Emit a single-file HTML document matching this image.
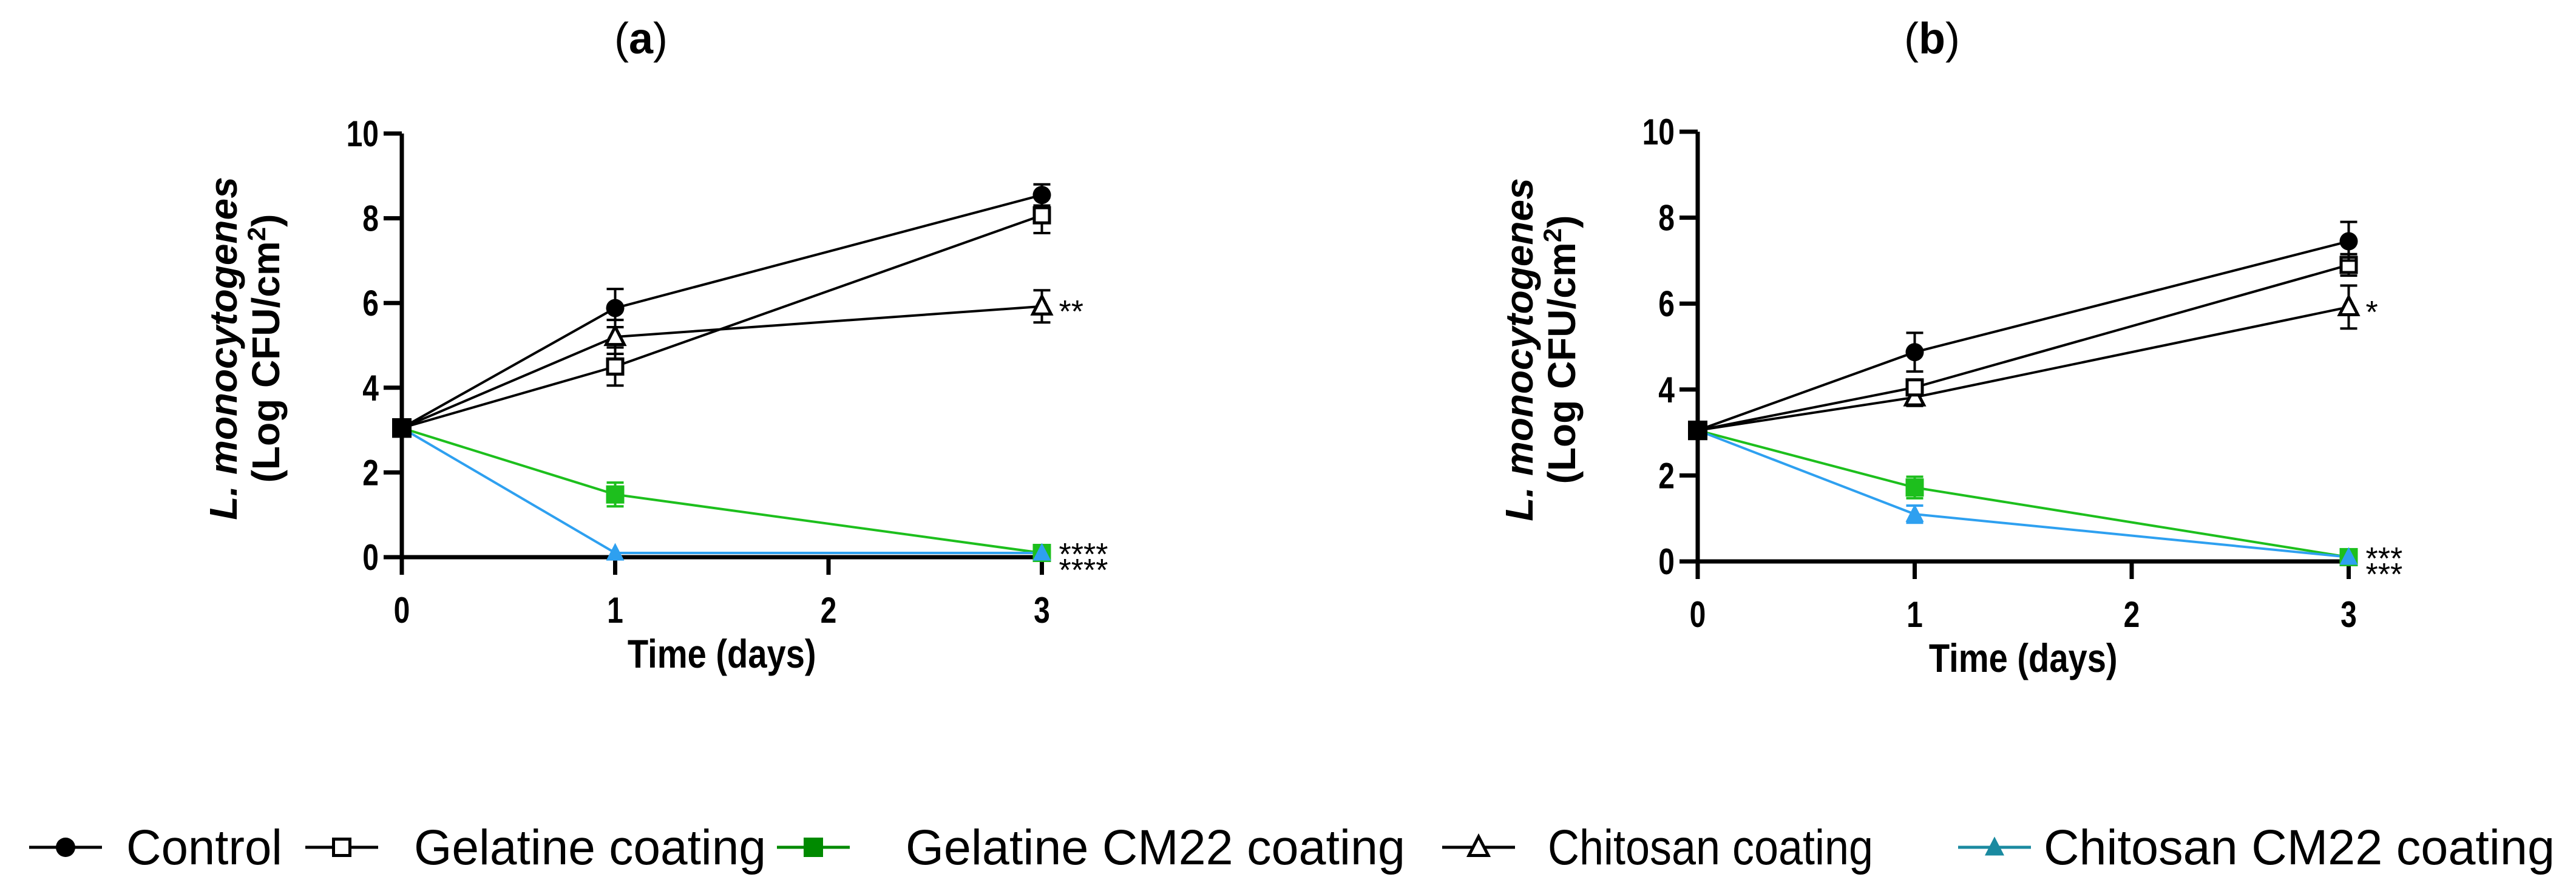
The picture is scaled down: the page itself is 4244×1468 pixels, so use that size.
<!DOCTYPE html>
<html><head><meta charset="utf-8"><style>
body{margin:0;background:#fff;}
svg{display:block;}
text{font-family:"Liberation Sans",Arial,sans-serif;}
.tick{font-weight:bold;font-size:60px;}
</style></head><body>
<svg id="chart" width="4244" height="1468" viewBox="0 0 4244 1468">
<g id="legend"></g>
</svg>
<script>
const days = [0, 1, 3];
const xTicks = [0, 1, 2, 3];
const yTicks = [0, 2, 4, 6, 8, 10];
const seriesNames = ["Control", "Gelatine coating", "Gelatine CM22 coating", "Chitosan coating", "Chitosan CM22 coating"];
// panel a
const aControl = [3.05, 5.88, 8.55];
const aControlErr = [0, 0.45, 0.25];
const aGelatine = [3.05, 4.5, 8.07];
const aGelatineErr = [0, 0.45, 0.42];
const aGelCM22 = [3.05, 1.48, 0.1];
const aGelCM22Err = [0, 0.28, 0];
const aChitosan = [3.05, 5.2, 5.92];
const aChitosanErr = [0, 0.4, 0.38];
const aChitCM22 = [3.05, 0.1, 0.1];
const aChitCM22Err = [0, 0, 0];
// panel b
const bControl = [3.05, 4.87, 7.45];
const bControlErr = [0, 0.45, 0.45];
const bGelatine = [3.05, 4.05, 6.9];
const bGelatineErr = [0, 0.15, 0.25];
const bGelCM22 = [3.05, 1.72, 0.1];
const bGelCM22Err = [0, 0.25, 0];
const bChitosan = [3.05, 3.82, 5.92];
const bChitosanErr = [0, 0.2, 0.5];
const bChitCM22 = [3.05, 1.1, 0.1];
const bChitCM22Err = [0, 0.2, 0];
const aSig = ["**", "****", "****"];
const bSig = ["*", "***", "***"];

const NS = "http://www.w3.org/2000/svg";
const svg = document.getElementById("chart");
function mk(tag, attrs, parent) {
  const e = document.createElementNS(NS, tag);
  for (const k in attrs) e.setAttribute(k, attrs[k]);
  (parent || svg).appendChild(e);
  return e;
}
const GREEN = "#1dbf1d", BLUE = "#2ea0f0";

function marker(g, type, cx, cy, color, s) {
  let e;
  if (type === "circle") e = mk("circle", {cx, cy, r: s*0.5, fill: color}, g);
  else if (type === "sqOpen") e = mk("rect", {x: cx-s/2+2.5, y: cy-s/2+2.5, width: s-5, height: s-5, fill: "#fff", stroke: color, "stroke-width": 5}, g);
  else if (type === "sq") e = mk("rect", {x: cx-s/2, y: cy-s/2, width: s, height: s, fill: color}, g);
  else if (type === "triOpen") e = mk("polygon", {points: `${cx},${cy-s*0.55} ${cx+s*0.5},${cy+s*0.42} ${cx-s*0.5},${cy+s*0.42}`, fill: "#fff", stroke: color, "stroke-width": 5}, g);
  else e = mk("polygon", {points: `${cx},${cy-s*0.55} ${cx+s*0.5},${cy+s*0.42} ${cx-s*0.5},${cy+s*0.42}`, fill: color}, g);
  return e;
}

function panel(cfg) {
  const g = mk("g", {});
  
  
  const X = d => cfg.x0 + d * cfg.dx;
  const Y = v => cfg.y0 - v * cfg.dy;
  const t = mk("text", {x: cfg.titleX, y: 88, "font-size": 72, "text-anchor": "middle", "font-family": "Liberation Serif, serif"}, g);
  
  
  t.innerHTML = "(<tspan font-weight='bold'>" + cfg.label + "</tspan>)";
  const series = [
    {v: cfg.data[2], e: cfg.err[2], c: GREEN, m: "sq", n: "gelatine-cm22"},
    {v: cfg.data[4], e: cfg.err[4], c: BLUE, m: "tri", n: "chitosan-cm22"},
    {v: cfg.data[3], e: cfg.err[3], c: "#000", m: "triOpen", n: "chitosan"},
    {v: cfg.data[1], e: cfg.err[1], c: "#000", m: "sqOpen", n: "gelatine"},
    {v: cfg.data[0], e: cfg.err[0], c: "#000", m: "circle", n: "control"},
  ];
  for (const s of series) {
    const pts = days.map((d, i) => X(d) + "," + Y(s.v[i])).join(" ");
    const pl = mk("polyline", {points: pts, fill: "none", stroke: s.c, "stroke-width": 4}, g);
    
    
  }
  const ax = mk("path", {d: `M${cfg.x0} ${Y(10)} V${cfg.y0+29} M${cfg.x0-30} ${cfg.y0} H${X(3)}`, stroke: "#000", "stroke-width": 7, fill: "none"}, g);
  
  
  for (const v of yTicks) {
    mk("line", {x1: cfg.x0-30, x2: cfg.x0, y1: Y(v), y2: Y(v), stroke: "#000", "stroke-width": 7}, g);
    const tl = mk("text", {x: cfg.x0-38, y: Y(v)+21, "text-anchor": "end", class: "tick", transform: `translate(${cfg.x0-38},0) scale(0.8,1) translate(${-(cfg.x0-38)},0)`}, g);
    
    
    tl.textContent = v;
  }
  for (const d of xTicks) {
    mk("line", {x1: X(d), x2: X(d), y1: cfg.y0, y2: cfg.y0+29, stroke: "#000", "stroke-width": 7}, g);
    const tl = mk("text", {x: X(d), y: cfg.y0+108, "text-anchor": "middle", class: "tick", transform: `translate(${X(d)},0) scale(0.8,1) translate(${-X(d)},0)`}, g);
    
    
    tl.textContent = d;
  }
  for (const s of series) {
    days.forEach((d, i) => {
      const cx = X(d), cy = Y(s.v[i]);
      if (s.e[i] > 0) {
        const y1 = Y(s.v[i]+s.e[i]), y2 = Y(s.v[i]-s.e[i]);
        mk("path", {d: `M${cx} ${y1} V${y2} M${cx-14} ${y1} H${cx+14} M${cx-14} ${y2} H${cx+14}`, stroke: s.c, "stroke-width": 4, fill: "none"}, g);
      }
      const m = marker(g, i === 0 ? "sq" : s.m, cx, cy, i === 0 ? "#000" : s.c, i === 0 ? 32 : 30);
      
      
    });
  }
  const sg = [[cfg.data[3][2], cfg.sig[0], 0], [0.1, cfg.sig[1], -6], [0.1, cfg.sig[2], 20]];
  for (const [v, txt, off] of sg) {
    const st = mk("text", {x: X(3)+28, y: Y(v)+26+off, "font-size": 52}, g);
    
    
    st.textContent = txt;
  }
  const yt = mk("text", {transform: `translate(${cfg.x0-272},${Y(5)+5}) rotate(-90)`, "text-anchor": "middle", "font-size": 64, "font-weight": "bold"}, g);
  
  
  yt.innerHTML = "<tspan font-style='italic'>L. monocytogenes</tspan>";
  const yt2 = mk("text", {transform: `translate(${cfg.x0-202},${Y(5)+5}) rotate(-90)`, "text-anchor": "middle", "font-size": 64, "font-weight": "bold"}, g);
  
  
  yt2.innerHTML = "(Log CFU/cm<tspan baseline-shift='super' font-size='42'>2</tspan>)";
  const xt = mk("text", {x: X(1.5), y: cfg.y0+182, "text-anchor": "middle", "font-size": 66, "font-weight": "bold", transform: `translate(${X(1.5)},0) scale(0.85,1) translate(${-X(1.5)},0)`}, g);
  
  
  xt.textContent = "Time (days)";
}

panel({name: "panel-a", label: "a", titleX: 1056, x0: 662, dx: 351.5, y0: 918, dy: 69.8,
  data: [aControl, aGelatine, aGelCM22, aChitosan, aChitCM22],
  err: [aControlErr, aGelatineErr, aGelCM22Err, aChitosanErr, aChitCM22Err], sig: aSig});
panel({name: "panel-b", label: "b", titleX: 3183, x0: 2797, dx: 357.5, y0: 925, dy: 70.8,
  data: [bControl, bGelatine, bGelCM22, bChitosan, bChitCM22],
  err: [bControlErr, bGelatineErr, bGelCM22Err, bChitosanErr, bChitCM22Err], sig: bSig});

const lg = document.getElementById("legend");
const legMarkers = [["circle", "#000", 108, 208, 257], ["sqOpen", "#000", 563, 682, 580], ["sq", "#008a00", 1340, 1492, 823], ["triOpen", "#000", 2436, 2550, 536], ["tri", "#1a8aa0", 3286, 3367, 842]];
legMarkers.forEach((lm, i) => {
  const [type, col, mx, tx, tw] = lm;
  const y = 1396;
  mk("line", {x1: mx-60, x2: mx+60, y1: y, y2: y, stroke: col, "stroke-width": 5}, lg);
  const m = marker(lg, type, mx, y, col, 32);
  
  
  const t = mk("text", {x: tx, y: y+28, "font-size": 82, textLength: tw, lengthAdjust: "spacingAndGlyphs"}, lg);
  
  
  t.textContent = seriesNames[i];
});
</script>
</body></html>
